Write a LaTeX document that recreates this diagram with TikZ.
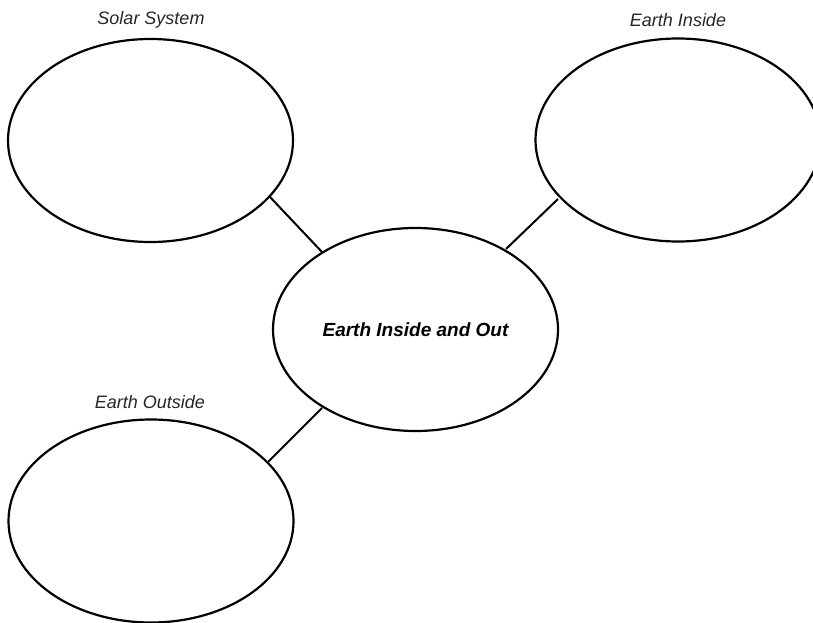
\documentclass[tikz,border=0pt]{standalone}
\usepackage{fontspec}
\usetikzlibrary{shapes.geometric}
\setmainfont{Liberation Sans}
\begin{document}
\begin{tikzpicture}[x=1pt,y=-1pt,
  bubble/.style={draw=black,line width=2.2pt,ellipse,fill=white,inner sep=0pt,
    minimum width=285pt,minimum height=203pt},
  lbl/.style={font=\fontsize{18}{21}\selectfont\itshape,text=black!85},
  link/.style={draw=black,line width=2pt}]
\useasboundingbox (0,0) rectangle (813,623);
\coordinate (l1a) at (270,197); \coordinate (l1b) at (322,252);
\coordinate (l2a) at (558,199); \coordinate (l2b) at (506,249);
\coordinate (l3a) at (322,408); \coordinate (l3b) at (268,462);
\draw[link] (l1a) -- (l1b);
\draw[link] (l2a) -- (l2b);
\draw[link] (l3a) -- (l3b);
\node[bubble] (sse) at (150.5,140.5) {};
\node[bubble] (eie) at (678,140) {};
\node[bubble,font=\fontsize{19}{22}\selectfont\bfseries\itshape] (c) at (415.5,329.5) {Earth Inside and Out};
\node[bubble] (eoe) at (151,521) {};
\node[lbl] (ss) at (151,20) {Solar System};
\node[lbl] (ei) at (678,20) {Earth Inside};
\node[lbl] (eo) at (150,402) {Earth Outside};
\end{tikzpicture}
\end{document}
